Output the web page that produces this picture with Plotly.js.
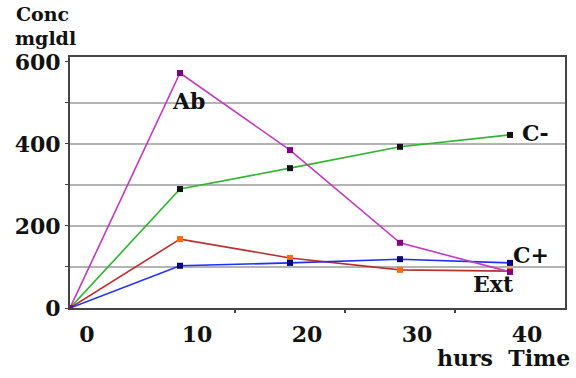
<!DOCTYPE html>
<html>
<head>
<meta charset="utf-8">
<script src="https://cdn.plot.ly/plotly-3.0.1.min.js"></script>
<style>html,body{margin:0;padding:0;background:#fff;}#chart{width:576px;height:378px;}</style>
</head>
<body>
<div id="chart"></div>
<script>
// Data
const hours = [0, 10, 20, 30, 40];
const ab    = [0, 573, 385, 159, 88];
const cMinus= [0, 290, 341, 393, 422];
const ext   = [0, 168, 122, 93, 90];
const cPlus = [0, 103, 110, 119, 110];

const yTickVals = [0, 200, 400, 600];
const yTickText = ["0", "200", "400", "600"];
const xTickVals = [0, 10, 20, 30, 40];
const xTickText = ["0", "10", "20", "30", "40"];

const serif = "DejaVu Serif";
const font = {family: serif, size: 22, color: "#111", weight: "bold"};
const smallFont = {family: serif, size: 19, color: "#111", weight: "bold"};

function series(y, lineColor, markerColor, name) {
  return {
    x: hours, y: y, name: name, type: "scatter", mode: "lines+markers",
    line: {color: lineColor, width: 1.6},
    marker: {symbol: "square", size: 6, color: markerColor},
    hoverinfo: "skip", showlegend: false
  };
}

const data = [
  series(cMinus, "#2fb52f", "#111111", "C-"),
  series(ext, "#b83030", "#ff6a10", "Ext"),
  series(cPlus, "#1f2fff", "#000080", "C+"),
  series(ab, "#c23ac2", "#800080", "Ab")
];

const layout = {
  width: 576, height: 378,
  margin: {l: 70, r: 11, t: 57, b: 70},
  paper_bgcolor: "#fff", plot_bgcolor: "#fff",
  font: font,
  xaxis: {
    range: [0, 45], tickvals: xTickVals, ticktext: xTickText,
    ticks: "", showgrid: false, zeroline: false,
    showline: true, linecolor: "#444", linewidth: 2, mirror: true,
    ticklabelshift: 17, ticklabelstandoff: 6,
    tickfont: {family: serif, size: 22, color: "#111", weight: "bold"},
    minor: {tickvals: [15, 25, 35], ticks: "outside", ticklen: 3, tickwidth: 2, tickcolor: "#444", showgrid: false}
  },
  yaxis: {
    range: [0, 612], tickvals: yTickVals, ticktext: yTickText,
    ticks: "outside", ticklen: 3, tickwidth: 1, tickcolor: "#444",
    showgrid: false, zeroline: false,
    showline: true, linecolor: "#444", linewidth: 2, mirror: true,
    tickfont: {family: serif, size: 22, color: "#111", weight: "bold"},
    minor: {tickvals: [100, 200, 300, 400, 500], ticks: "outside", ticklen: 3, tickcolor: "#444",
            showgrid: true, gridcolor: "#b4b4b4", gridwidth: 2}
  },
  annotations: [
    {text: "Conc", xref: "paper", yref: "paper", x: -0.113, y: 1.172, xanchor: "left", yanchor: "middle", showarrow: false, font: smallFont},
    {text: "mgldl", xref: "paper", yref: "paper", x: -0.115, y: 1.075, xanchor: "left", yanchor: "middle", showarrow: false, font: smallFont},
    {text: "hurs  Time", xref: "paper", yref: "paper", x: 1.014, y: -0.199, xanchor: "right", yanchor: "middle", showarrow: false, font: font},
    {text: "Ab", xref: "x", yref: "y", x: 10.73, y: 505, xanchor: "center", yanchor: "middle", showarrow: false, font: font},
    {text: "C-", xref: "x", yref: "y", x: 42.3, y: 427, xanchor: "center", yanchor: "middle", showarrow: false, font: font},
    {text: "C+", xref: "x", yref: "y", x: 41.9, y: 129, xanchor: "center", yanchor: "middle", showarrow: false, font: font},
    {text: "Ext", xref: "x", yref: "y", x: 38.5, y: 58.5, xanchor: "center", yanchor: "middle", showarrow: false, font: font}
  ]
};

Plotly.newPlot("chart", data, layout, {staticPlot: true, displayModeBar: false});
</script>
</body>
</html>
